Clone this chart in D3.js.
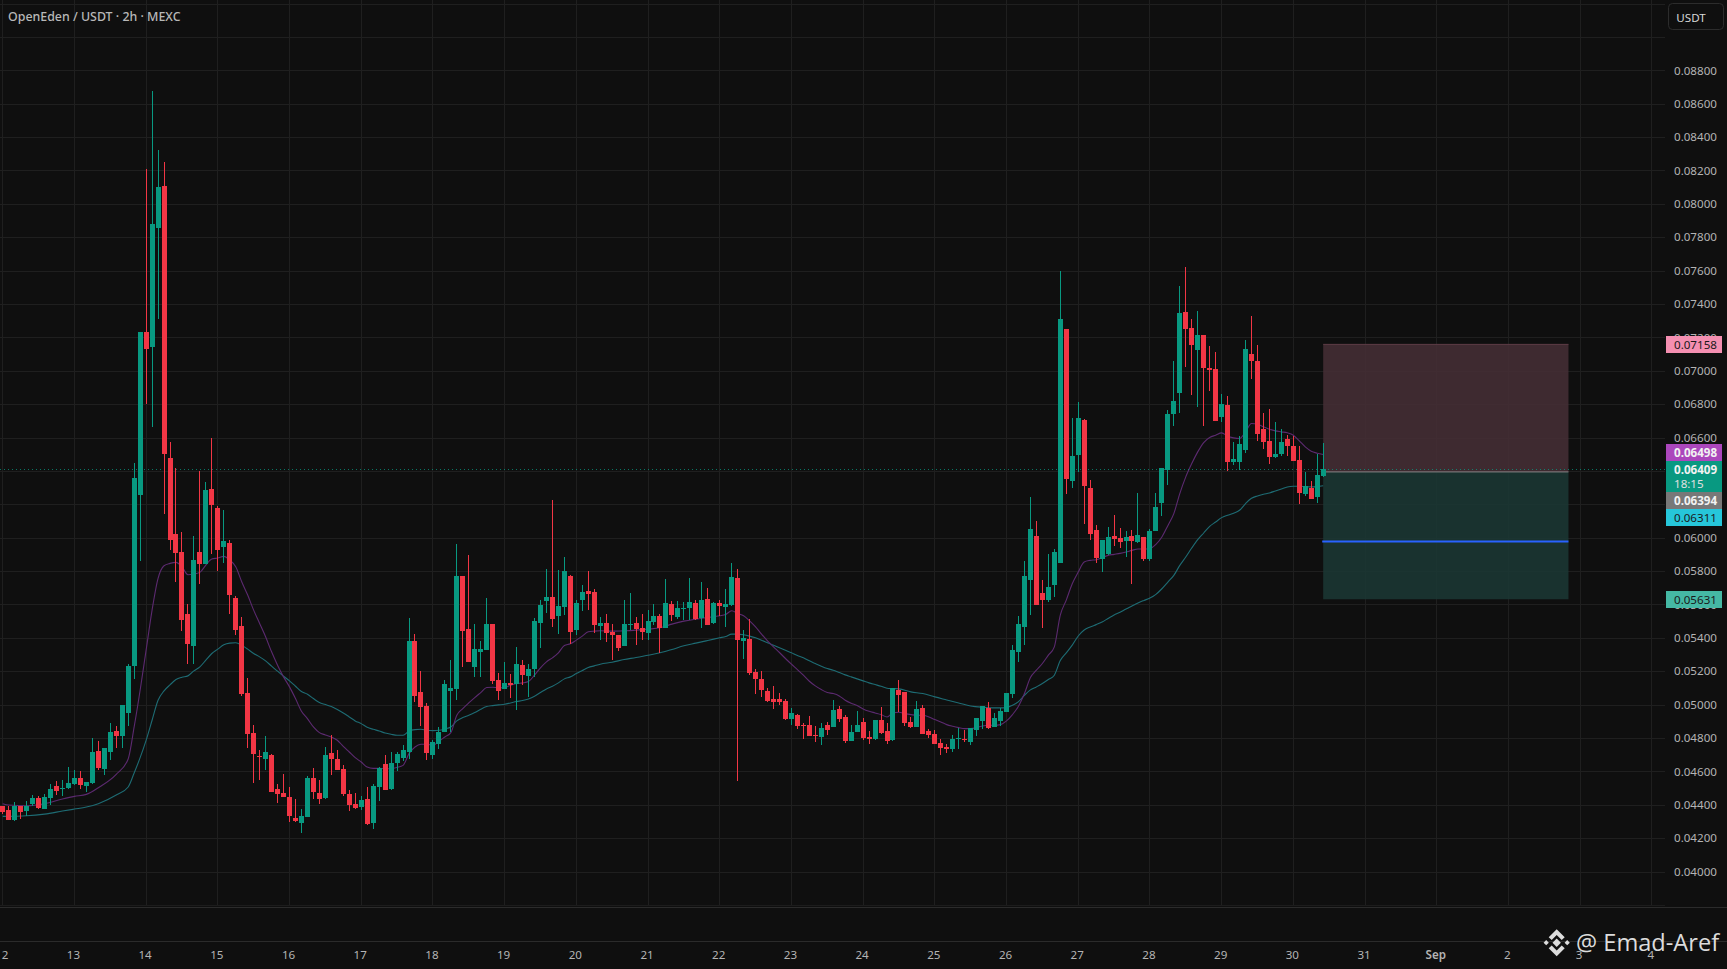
<!DOCTYPE html>
<html><head><meta charset="utf-8">
<script src="https://cdn.jsdelivr.net/npm/d3@7/dist/d3.min.js"></script>
<style>html,body{margin:0;padding:0;background:#0f0f0f;overflow:hidden}svg{display:block}text{font-family:"Noto Sans",sans-serif}</style>
</head><body><svg id="c" width="1727" height="969"></svg>
<script>
// Prices are in units of 0.00001 USDT. One candle every 2h; index 0 = day "12".
const opens=[4390,4366,4306,4390,4360,4402,4438,4372,4438,4510,
4494,4498,4522,4558,4510,4528,4720,4612,4714,4840,
4810,4948,5230,6256,7230,7140,7854,8106,6478,6022,
5914,5542,5350,5914,5842,6292,6178,5944,5968,5638,
5470,5068,4828,4692,4672,4696,4492,4468,4444,4318,
4288,4324,4558,4468,4438,4708,4672,4612,4462,4402,
4384,4432,4288,4504,4642,4492,4648,4678,4714,5380,
5074,4990,4696,4762,4834,5080,5092,5770,5452,5224,
5314,5326,5482,5146,5092,5128,5122,5236,5170,5212,
5488,5620,5644,5530,5584,5770,5446,5626,5680,5674,
5470,5488,5434,5416,5350,5476,5488,5458,5428,5494,
5530,5458,5602,5524,5572,5578,5608,5518,5632,5488,
5608,5584,5596,5758,5380,5392,5194,5152,5080,5032,
5032,5020,4912,4936,4880,4876,4816,4804,4876,4864,
4972,4924,4780,4834,4894,4804,4792,4906,4840,4786,
5086,5074,4894,4864,4978,4840,4822,4768,4744,4732,
4794,4792,4774,4846,4900,4978,4864,4900,4954,5062,
5314,5464,5746,6010,5668,5626,5716,5846,7250,6338,
6494,6704,6296,6044,5870,5900,6008,5996,5978,6008,
5972,6002,5870,6038,6206,6404,6740,6866,7352,7256,
7124,7214,7016,7010,6722,6794,6452,6452,6524,7100,
7058,6650,6578,6482,6500,6590,6548,6464,6260,6296,
6242,6368];
const closes=[4358,4306,4390,4354,4392,4438,4378,4444,4492,4480,
4498,4528,4558,4516,4534,4714,4618,4738,4834,4810,
4996,5230,6358,7230,7128,7878,8100,6504,5986,5908,
5506,5362,5866,5842,6286,6196,5926,5980,5656,5446,
5062,4822,4702,4686,4714,4474,4462,4444,4330,4300,
4330,4558,4474,4432,4696,4672,4606,4462,4396,4378,
4426,4282,4510,4618,4486,4648,4702,4726,5380,5050,
4984,4708,4774,4834,5122,5098,5770,5440,5254,5332,
5332,5482,5140,5080,5128,5116,5242,5176,5212,5500,
5596,5644,5512,5590,5800,5434,5608,5674,5662,5476,
5488,5428,5416,5338,5482,5482,5452,5434,5500,5530,
5458,5608,5536,5578,5578,5614,5512,5626,5476,5608,
5590,5602,5764,5386,5398,5188,5152,5086,5020,5014,
5014,4912,4948,4870,4872,4810,4810,4858,4846,4966,
4912,4780,4834,4876,4798,4792,4906,4828,4780,5098,
5056,4888,4864,4972,4822,4816,4762,4738,4732,4792,
4800,4786,4858,4918,4990,4858,4918,4960,5068,5326,
5482,5770,6052,5596,5626,5704,5914,7310,6350,6488,
6716,6308,6020,5876,5984,6002,5990,5972,6002,5978,
6014,5870,6038,6182,6416,6740,6818,7346,7250,7154,
7214,7016,7004,6698,6800,6452,6470,6560,7130,7058,
6620,6572,6482,6500,6572,6548,6458,6266,6308,6230,
6374,6409];
const highs=[4394,4390,4414,4394,4420,4456,4450,4466,4522,4540,
4546,4624,4606,4600,4534,4798,4780,4738,4888,4870,
4996,5242,6448,7230,8208,8676,8322,8250,6576,6418,
6034,5602,6010,6400,6334,6600,6190,6166,5986,5650,
5524,5158,4876,4726,4810,4702,4522,4582,4504,4432,
4372,4570,4618,4546,4744,4816,4726,4636,4486,4468,
4450,4504,4522,4624,4696,4714,4714,4756,5518,5422,
5200,5008,4786,4864,5146,5266,5962,5770,5896,5482,
5380,5638,5482,5188,5254,5182,5344,5266,5242,5518,
5626,5812,6226,5806,5884,5776,5626,5716,5800,5692,
5524,5542,5482,5416,5626,5668,5524,5542,5566,5602,
5542,5752,5620,5620,5614,5758,5626,5734,5698,5614,
5626,5692,5848,5812,5446,5512,5212,5200,5098,5110,
5068,5032,4978,4942,4888,4930,4870,4888,4894,5026,
4990,4936,4876,4960,4918,4840,4906,4984,4888,5098,
5146,5074,4924,5020,4996,4852,4846,4792,4762,4816,
4858,4846,4858,4918,4990,5014,4948,4978,5068,5356,
5530,5860,6244,6100,5746,5902,5932,7598,7250,6716,
6812,6710,6344,6074,5984,6062,6134,6056,6038,6044,
6266,6002,6050,6266,6416,6764,7058,7508,7622,7310,
7358,7214,7148,7112,6860,6848,6572,6608,7184,7328,
7154,6746,6770,6692,6650,6614,6608,6548,6392,6338,
6500,6566];
const lows=[4342,4306,4300,4314,4334,4394,4372,4372,4396,4458,
4450,4492,4516,4492,4474,4522,4606,4576,4666,4738,
4738,4870,5152,5860,6798,6666,7308,6142,5926,5734,
5440,5242,5242,5722,5842,5902,5800,5848,5542,5416,
5050,4738,4528,4546,4606,4474,4408,4444,4294,4294,
4228,4324,4432,4402,4432,4576,4606,4450,4360,4372,
4366,4276,4252,4420,4486,4486,4600,4660,4672,5014,
4870,4666,4672,4732,4834,4834,5026,5224,5254,5164,
5164,5326,5122,5026,5092,5038,4966,5116,5044,5164,
5338,5548,5464,5422,5536,5362,5416,5560,5566,5428,
5386,5374,5266,5320,5350,5446,5356,5386,5386,5476,
5308,5458,5500,5512,5506,5506,5506,5458,5476,5482,
5530,5464,5590,4540,5272,5176,5062,5044,5014,4972,
4996,4906,4876,4852,4792,4810,4774,4756,4816,4864,
4894,4768,4780,4834,4786,4762,4786,4822,4762,4780,
4954,4870,4858,4864,4822,4798,4762,4696,4708,4714,
4732,4774,4756,4810,4852,4852,4864,4870,4954,5038,
5254,5356,5536,5596,5458,5614,5644,5846,6260,6296,
6392,6080,5984,5846,5792,5894,5948,5936,5882,5720,
5966,5858,5858,6038,6128,6314,6668,6746,7022,6854,
6782,6668,6878,6698,6692,6398,6434,6404,6506,6950,
6578,6530,6440,6476,6488,6488,6458,6200,6248,6230,
6206,6362];
// moving averages: [candle index, price]
const fastMA=[[0,4406],[1,4398],[4,4394],[7,4406],[10,4434],[12,4450],[14,4462],[16,4502],[19,4582],[21,4674],[22,4866],[23,5086],[24,5326],[25,5566],[26,5756],[27,5832],[28,5846],[29,5852],[30,5826],[31,5778],[32,5782],[33,5792],[34,5836],[35,5872],[36,5878],[37,5888],[38,5866],[39,5826],[40,5736],[41,5656],[42,5566],[43,5486],[44,5406],[45,5316],[46,5236],[47,5166],[48,5106],[49,5036],
[50,4960],[51,4916],[52,4866],[53,4832],[54,4818],[55,4806],[56,4786],[57,4750],[58,4716],[59,4682],[60,4656],[61,4626],[62,4618],[63,4618],[64,4616],[65,4616],[66,4624],[67,4636],[68,4706],[69,4746],[70,4762],[71,4762],[72,4756],[73,4780],[74,4806],[75,4832],[76,4936],[77,4976],[78,5010],[79,5042],[80,5072],[81,5102],[82,5104],[83,5100],[84,5102],[85,5116],[86,5126],[87,5130],[88,5138],[89,5176],[90,5220],[91,5256],[92,5280],[93,5310],[94,5354],[95,5364],[96,5386],[97,5410],[98,5436],[99,5440],[100,5442],
[102,5440],[104,5442],[106,5446],[108,5452],[110,5460],[112,5482],[114,5500],[116,5512],[118,5522],[120,5532],[121,5540],[122,5562],[123,5546],[124,5532],[125,5502],[126,5466],[127,5422],[128,5382],[129,5346],[130,5312],[131,5276],[132,5242],[133,5210],[134,5176],[135,5140],[136,5112],[137,5090],[138,5072],[139,5066],[140,5052],[141,5026],[142,5008],[143,4994],[144,4974],[145,4960],[146,4950],[147,4940],[148,4926],[149,4950],[150,4954],
[151,4946],[153,4936],[154,4936],[155,4926],[156,4910],[157,4896],[158,4880],[159,4870],[160,4862],[161,4856],[162,4856],[163,4862],[164,4872],[165,4876],[166,4876],[167,4880],[168,4902],[169,4940],[170,4990],[171,5066],[172,5162],[173,5206],[174,5246],[175,5296],[176,5346],[177,5536],[178,5626],[179,5724],[180,5794],[181,5854],[182,5864],[183,5868],[184,5880],[185,5894],[186,5900],[187,5906],[188,5914],[189,5924],[190,5932],[191,5932],[192,5934],[193,5960],[194,6004],[195,6072],[196,6144],[197,6264],[198,6364],[199,6444],[200,6514],[201,6570],[202,6600],[203,6614],[204,6628],[205,6608],[206,6598],[207,6594],[208,6634],[209,6684],[210,6680],[211,6664],[212,6650],[213,6640],[214,6634],[215,6628],[216,6614],[217,6580],[218,6544],[219,6518],[220,6506],[221,6498]];
const slowMA=[[0,4330],[4,4334],[7,4344],[10,4362],[12,4374],[14,4386],[16,4406],[19,4458],[21,4506],[22,4590],[23,4682],[24,4786],[25,4906],[26,5026],[27,5082],[28,5118],[29,5150],[30,5164],[31,5172],[32,5202],[33,5226],[34,5266],[35,5306],[36,5332],[37,5358],[38,5368],[39,5370],[40,5356],[41,5332],[42,5306],[43,5286],[44,5262],[45,5230],[46,5200],[47,5170],[48,5142],[49,5110],
[50,5078],[51,5062],[52,5036],[53,5012],[54,5000],[55,4988],[56,4970],[57,4950],[58,4926],[59,4902],[60,4886],[61,4864],[62,4852],[63,4842],[64,4830],[65,4822],[66,4816],[67,4816],[68,4842],[69,4850],[70,4852],[71,4846],[72,4844],[73,4846],[74,4854],[75,4866],[76,4902],[77,4922],[78,4936],[79,4952],[80,4972],[81,4988],[82,4994],[83,4998],[84,5002],[85,5010],[86,5018],[87,5024],[88,5034],[89,5050],[90,5072],[91,5094],[92,5110],[93,5130],[94,5154],[95,5166],[96,5186],[97,5204],[98,5222],[99,5232],[100,5242],
[102,5254],[104,5270],[106,5282],[108,5296],[110,5310],[112,5330],[114,5352],[116,5368],[118,5384],[120,5400],[121,5408],[122,5422],[123,5422],[124,5418],[125,5410],[126,5400],[127,5386],[128,5370],[129,5356],[130,5340],[131,5326],[132,5310],[133,5294],[134,5280],[135,5262],[136,5246],[137,5230],[138,5216],[139,5206],[140,5192],[141,5178],[142,5166],[143,5154],[144,5142],[145,5130],[146,5120],[147,5110],[148,5098],[149,5096],[150,5094],
[152,5076],[154,5066],[156,5046],[158,5028],[160,5010],[162,4992],[164,4984],[166,4980],[167,4980],[168,4982],[169,4996],[170,5018],[171,5056],[172,5088],[173,5106],[174,5126],[175,5150],[176,5176],[177,5264],[178,5310],[179,5356],[180,5411],[181,5447],[182,5465],[183,5479],[184,5495],[185,5516],[186,5537],[187,5553],[188,5573],[189,5591],[190,5609],
[191,5624],[192,5638],[193,5660],[194,5694],[195,5734],[196,5774],[197,5834],[198,5884],[199,5938],[200,5988],[201,6028],[202,6068],[203,6094],[204,6120],[205,6134],[206,6146],[207,6164],[208,6204],[209,6236],[210,6250],[211,6260],[212,6268],[213,6280],[214,6292],[215,6304],[216,6308],[217,6308],[218,6306],[219,6304],[220,6306],[221,6311]];
const dayLabels=["12","13","14","15","16","17","18","19","20","21","22","23","24","25","26","27","28","29","30","31","Sep","2","3","4"];
const priceTicks=[8800,8600,8400,8200,8000,7800,7600,7400,7200,7000,6800,6600,6400,6200,6000,5800,5600,5400,5200,5000,4800,4600,4400,4200,4000];
const gridPrices=[9200,9000,8800,8600,8400,8200,8000,7800,7600,7400,7200,7000,6800,6600,6400,6200,6000,5800,5600,5400,5200,5000,4800,4600,4400,4200,4000,3800];
const stopPrice=7158, entryPrice=6394, targetPrice=5631, midPrice=5977, lastPrice=6409, fastLast=6498, slowLast=6311;
const countdown="18:15";
const toolStart=221, toolEnd=262.05;

const P=1e5;
const GREEN="#089981",RED="#f23645";
const svg=d3.select("#c");
const x=d3.scaleLinear().domain([0,221]).range([2.7,1323.2]);
const y=d3.scaleLinear().domain([8800/P,4000/P]).range([70.3,871.5]);
const yP=p=>y(p/P);
svg.append("rect").attr("width",1727).attr("height",969).attr("fill","#0f0f0f");
svg.append("defs").append("clipPath").attr("id","pane").append("rect").attr("width",1665).attr("height",905);
svg.append("defs").append("clipPath").attr("id","xa").append("rect").attr("y",907).attr("width",1727).attr("height",62);
const pane=svg.append("g").attr("clip-path","url(#pane)");

// grid
const dayIdx=dayLabels.map((d,i)=>i*12);
const gridG=pane.append("g").attr("shape-rendering","crispEdges").attr("stroke","#1f1f1f");
gridG.selectAll(".h").data(gridPrices).join("line").attr("x1",0).attr("x2",1665)
  .attr("y1",d=>Math.round(yP(d))+.5).attr("y2",d=>Math.round(yP(d))+.5);
gridG.selectAll(".v").data(dayIdx).join("line").attr("y1",0).attr("y2",905)
  .attr("x1",d=>Math.floor(x(d))+.5).attr("x2",d=>Math.floor(x(d))+.5);

// position tool
const tx0=x(toolStart),tx1=x(toolEnd);
const tool=pane.append("g");
tool.append("rect").attr("x",tx0).attr("width",tx1-tx0).attr("y",yP(stopPrice)).attr("height",yP(entryPrice)-yP(stopPrice)).attr("fill","rgb(70,47,54)").attr("opacity",.88);
tool.append("rect").attr("x",tx0).attr("width",tx1-tx0).attr("y",yP(entryPrice)).attr("height",yP(targetPrice)-yP(entryPrice)).attr("fill","rgb(27,56,52)").attr("opacity",.88);
tool.append("line").attr("x1",tx0).attr("x2",tx1).attr("y1",yP(stopPrice)).attr("y2",yP(stopPrice)).attr("stroke","#5e3d46");
tool.append("line").attr("x1",tx0).attr("x2",tx1).attr("y1",yP(entryPrice)).attr("y2",yP(entryPrice)).attr("stroke","#8a8488");
tool.append("line").attr("x1",tx0-1).attr("x2",tx1).attr("y1",yP(midPrice)).attr("y2",yP(midPrice)).attr("stroke","#2962ff").attr("stroke-width",2);

// moving averages
const line=d3.line().x(d=>x(d[0])).y(d=>yP(d[1])).curve(d3.curveMonotoneX);
pane.append("path").attr("d",line(slowMA)).attr("fill","none").attr("stroke","#1e6c74").attr("stroke-width",1.1);
pane.append("path").attr("d",line(fastMA)).attr("fill","none").attr("stroke","#5c2a70").attr("stroke-width",1.1);

// last price line
pane.append("line").attr("x1",0).attr("x2",1665).attr("y1",Math.round(yP(lastPrice))+.5).attr("y2",Math.round(yP(lastPrice))+.5)
  .attr("stroke",GREEN).attr("stroke-opacity",.75).attr("stroke-dasharray","1 3");

// candles
const idx=d3.range(opens.length);
const col=i=>closes[i]>=opens[i]?GREEN:RED;
const cg=pane.append("g").attr("shape-rendering","crispEdges");
cg.selectAll(".w").data(idx).join("rect").attr("x",i=>Math.floor(x(i))).attr("width",1)
  .attr("y",i=>yP(highs[i])).attr("height",i=>yP(lows[i])-yP(highs[i])).attr("fill",col);
cg.selectAll(".b").data(idx).join("rect").attr("x",i=>Math.floor(x(i))-2).attr("width",5)
  .attr("y",i=>yP(Math.max(opens[i],closes[i]))).attr("height",i=>Math.max(1,Math.abs(yP(opens[i])-yP(closes[i])))).attr("fill",col);

// separators
const sep=svg.append("g").attr("shape-rendering","crispEdges");
sep.append("line").attr("x1",0).attr("x2",1665).attr("y1",905.5).attr("y2",905.5).attr("stroke","#1c1c1c");
sep.append("line").attr("x1",0).attr("x2",1727).attr("y1",907.5).attr("y2",907.5).attr("stroke","#2b2b2b");
sep.append("line").attr("x1",0).attr("x2",1727).attr("y1",941.5).attr("y2",941.5).attr("stroke","#2b2b2b");

// axes
const yAxis=d3.axisRight(y).tickValues(priceTicks.map(d=>d/P)).tickFormat(d3.format(".5f")).tickSize(0).tickPadding(0);
const ya=svg.append("g").attr("transform","translate(1674,0)").call(yAxis);
ya.select(".domain").remove();
ya.selectAll("text").attr("fill","#b4b4b4").attr("font-size",11.6).style("font-family",'"Noto Sans",sans-serif');
const xAxis=d3.axisBottom(x).tickValues(dayIdx).tickFormat((d,i)=>dayLabels[i]).tickSize(0).tickPadding(0);
const xa=svg.append("g").attr("clip-path","url(#xa)").append("g").attr("transform","translate(-1.5,951)").call(xAxis);
xa.select(".domain").remove();
xa.selectAll("text").attr("fill","#b4b4b4").attr("font-size",11.6).style("font-family",'"Noto Sans",sans-serif')
  .attr("font-weight",d=>d===240?600:400);

// title + currency
svg.append("text").attr("x",8).attr("y",21).attr("fill","#b8b8b8").attr("font-size",12.4).attr("font-weight",500).text("OpenEden / USDT · 2h · MEXC");
svg.append("rect").attr("x",1668.5).attr("y",3.5).attr("width",55).attr("height",26).attr("rx",4).attr("fill","#0f0f0f").attr("stroke","#2c2c2c");
svg.append("text").attr("x",1691).attr("y",21.5).attr("text-anchor","middle").attr("fill","#d8d8d8").attr("font-size",11.6).text("USDT");

// price labels
const fmt=d3.format(".5f");
const tags=[
 {v:stopPrice,top:336,h:17,bg:"#f48fb1",fg:"#1a1a1a",w:400},
 {v:fastLast,top:444,h:17,bg:"#ab47bc",fg:"#f2f2f2",w:700},
 {v:lastPrice,top:461,h:31,bg:GREEN,fg:"#f2f2f2",w:700,sub:countdown},
 {v:entryPrice,top:492,h:17,bg:"#787878",fg:"#f2f2f2",w:700},
 {v:slowLast,top:509,h:17,bg:"#26c6da",fg:"#1a1a1a",w:400},
 {v:targetPrice,top:591,h:17,bg:"#45b8a4",fg:"#1a1a1a",w:400}];
const tg=svg.append("g");
tags.forEach(t=>{
  tg.append("rect").attr("x",1666).attr("y",t.top).attr("width",56).attr("height",t.h).attr("fill",t.bg).attr("shape-rendering","crispEdges");
  tg.append("text").attr("x",1674).attr("y",t.top+12.8).attr("fill",t.fg).attr("font-size",11.6).attr("font-weight",t.w).text(fmt(t.v/P));
  if(t.sub) tg.append("text").attr("x",1674).attr("y",t.top+27).attr("fill","#e0e0e0").attr("font-size",11.6).text(t.sub);
});

// watermark
const wm=svg.append("g").attr("transform","translate(1556.7,942.7)").attr("fill","#dcdcdc");
const d1=4.2;
[[0,0],[-10.5,0],[10.5,0]].forEach(c=>wm.append("path").attr("d",`M${c[0]-(c[0]?2.6:d1)},${c[1]}L${c[0]},${c[1]-(c[0]?2.6:d1)}L${c[0]+(c[0]?2.6:d1)},${c[1]}L${c[0]},${c[1]+(c[0]?2.6:d1)}Z`));
wm.append("path").attr("d","M0,-13.5L8,-5.5L5,-2.8L0,-7.8L-5,-2.8L-8,-5.5Z");
wm.append("path").attr("d","M0,13.5L8,5.5L5,2.8L0,7.8L-5,2.8L-8,5.5Z");
svg.append("text").attr("x",1576).attr("y",951).attr("fill","#dcdcdc").attr("font-size",23.6).style("font-family",'"Open Sans",sans-serif').text("@ Emad-Aref");
</script></body></html>
